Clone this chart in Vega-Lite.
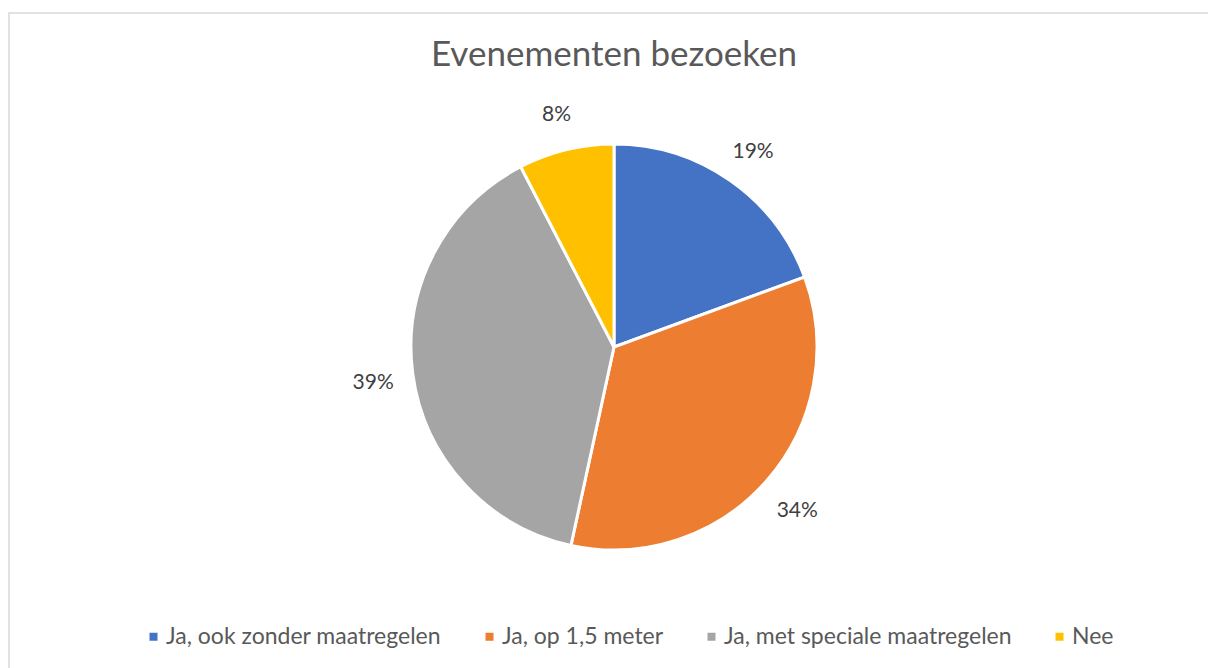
{
  "$schema": "https://vega.github.io/schema/vega-lite/v6.json",
  "width": 1210,
  "height": 668,
  "autosize": {"type": "none"},
  "padding": {"left": 9, "top": 13, "right": 0, "bottom": 0},
  "background": "white",
  "view": {"stroke": "#d9d9d9", "strokeWidth": 1.5},
  "config": {
    "view": {"stroke": "#d9d9d9", "strokeWidth": 1.5},
    "font": "Lato"
  },
  "title": {
    "text": "Evenementen bezoeken",
    "anchor": "middle",
    "frame": "group",
    "orient": "top",
    "offset": 0,
    "baseline": "alphabetic",
    "dy": 88,
    "font": "Lato",
    "fontSize": 35,
    "fontWeight": "normal",
    "color": "#595959"
  },
  "data": {
    "values": [
      {"categorie": "Ja, ook zonder maatregelen", "aandeel": 19.4, "volgorde": 1},
      {"categorie": "Ja, op 1,5 meter", "aandeel": 34.0, "volgorde": 2},
      {"categorie": "Ja, met speciale maatregelen", "aandeel": 39.0, "volgorde": 3},
      {"categorie": "Nee", "aandeel": 7.6, "volgorde": 4}
    ]
  },
  "transform": [
    {"joinaggregate": [{"op": "sum", "field": "aandeel", "as": "totaal"}]},
    {"calculate": "datum.aandeel / datum.totaal", "as": "fractie"}
  ],
  "encoding": {
    "theta": {"field": "aandeel", "type": "quantitative", "stack": true},
    "order": {"field": "volgorde", "type": "ordinal"}
  },
  "layer": [
    {
      "mark": {"type": "arc", "outerRadius": 203, "stroke": "white", "strokeWidth": 3},
      "encoding": {
        "color": {
          "field": "categorie",
          "type": "nominal",
          "scale": {
            "domain": ["Ja, ook zonder maatregelen", "Ja, op 1,5 meter", "Ja, met speciale maatregelen", "Nee"],
            "range": ["#4472C4", "#ED7D31", "#A5A5A5", "#FFC000"]
          },
          "legend": {
            "title": null,
            "orient": "none",
            "legendX": 133,
            "legendY": 612,
            "direction": "horizontal",
            "columns": 4,
            "columnPadding": 36,
            "symbolType": "square",
            "symbolSize": 64,
            "symbolStrokeWidth": 0,
            "labelFont": "Lato",
            "labelFontSize": 23,
            "labelColor": "#595959",
            "labelOffset": 1,
            "labelLimit": 400
          }
        }
      }
    },
    {
      "mark": {"type": "text", "radius": 243, "dy": 4, "font": "Lato", "fontSize": 21, "color": "#404040"},
      "encoding": {
        "text": {"field": "fractie", "type": "quantitative", "format": ".0%"}
      }
    }
  ]
}
